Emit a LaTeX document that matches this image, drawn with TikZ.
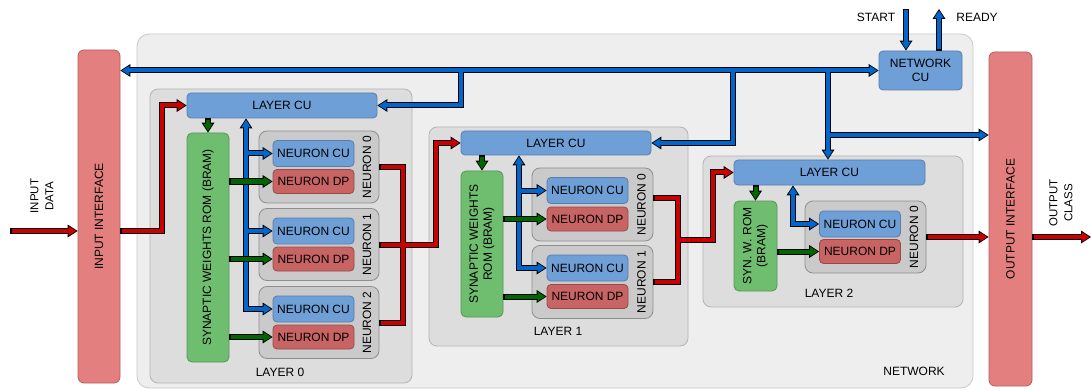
\documentclass[tikz,border=0pt]{standalone}
\usepackage{fontspec}
\setmainfont{Liberation Sans}
\usetikzlibrary{arrows.meta,positioning,calc}
\definecolor{netbg}{HTML}{EEEEEE}
\definecolor{netln}{HTML}{C8C8C8}
\definecolor{laybg}{HTML}{DDDDDD}
\definecolor{layln}{HTML}{B4B4B4}
\definecolor{nrnbg}{HTML}{CACACA}
\definecolor{nrnln}{HTML}{8E8E8E}
\definecolor{cubg}{HTML}{6E9FD6}
\definecolor{culn}{HTML}{5A7DAE}
\definecolor{dpbg}{HTML}{C96464}
\definecolor{dpln}{HTML}{9A4848}
\definecolor{rombg}{HTML}{6FBD6F}
\definecolor{romln}{HTML}{579657}
\definecolor{ifbg}{HTML}{E47F7F}
\definecolor{ifln}{HTML}{B45E5E}
\definecolor{datred}{HTML}{CC0000}
\definecolor{ctlblue}{HTML}{0066CC}
\definecolor{wgtgreen}{HTML}{006600}
\tikzset{
  every node/.style={font=\fontsize{12}{14}\selectfont,inner sep=0pt},
  netbox/.style={draw=netln,fill=netbg,line width=0.8pt,rounded corners=12pt},
  laybox/.style={draw=layln,fill=laybg,line width=0.8pt,rounded corners=8pt},
  nrnbox/.style={draw=nrnln,fill=nrnbg,line width=0.8pt,rounded corners=8pt,minimum width=120pt,minimum height=72pt},
  cublk/.style={draw=culn,fill=cubg,line width=0.8pt,rounded corners=4pt,minimum height=25pt},
  nrncu/.style={cublk,minimum width=81pt,minimum height=26pt},
  nrndp/.style={draw=dpln,fill=dpbg,line width=0.8pt,rounded corners=4pt,minimum width=81pt,minimum height=24pt},
  romblk/.style={draw=romln,fill=rombg,line width=0.8pt,rounded corners=5pt,minimum width=42pt},
  ifblk/.style={draw=ifln,fill=ifbg,line width=0.8pt,rounded corners=6pt,minimum width=42pt},
  rot/.style={rotate=90,align=center},
  sidelbl/.style={rot,font=\fontsize{11.5}{15}\selectfont},
  outl/.style={line width=6pt,draw=black,>={Triangle[length=10pt,width=13pt,line width=0pt]}},
  core/.style={line width=4pt,draw=#1,>={Triangle[length=7.4pt,width=9.4pt,line width=0pt]},shorten >=1.5pt,shorten <=1.5pt}
}
\begin{document}
\begin{tikzpicture}[x=1pt,y=-1pt]
  \useasboundingbox (0,0) rectangle (1091,390);
  % Network frame
  \node[netbox,minimum width=836pt,minimum height=354pt] (net) at (555,211) {};
  \node (netlbl) at (914,371) {NETWORK};

  % Interfaces
  \node[ifblk,minimum height=333pt] (inif) at (99,216.5) {};
  \node[rot] at (inif) {INPUT INTERFACE};
  \node[ifblk,minimum width=43pt,minimum height=334pt] (outif) at (1010.5,219) {};
  \node[rot] at (outif) {OUTPUT INTERFACE};
  \node[sidelbl] (indata) at (42,196) {INPUT\\DATA};
  \node[sidelbl] (outcls) at (1061,203) {OUTPUT\\CLASS};

  % Network control unit
  \node[cublk,minimum width=83pt,minimum height=39pt,align=center] (netcu) at (920.5,70.5) {NETWORK\\CU};
  \node (startlbl) at (876,17) {START};
  \node (readylbl) at (977,17) {READY};

  % Layer 0
  \node[laybox,minimum width=262pt,minimum height=294pt] (lay0) at (281,236) {};
  \node at (280,372) {LAYER 0};
  \node[cublk,minimum width=190pt] (l0cu) at (282,105.5) {LAYER CU};
  \node[romblk,minimum height=229pt] (rom0) at (208,247.5) {};
  \node[rot] at (rom0) {SYNAPTIC WEIGHTS ROM (BRAM)};
  \foreach \i/\y in {0/167,1/244.5,2/322.5} {
    \node[nrnbox] (nrn0\i) at (319,\y) {};
    \node[nrncu] (ncu0\i) at (313.5,\y-13.5) {NEURON CU};
    \node[nrndp] (ndp0\i) at (313.5,\y+14.5) {NEURON DP};
    \node[rot] at (367,\y) {NEURON \i};
  }

  % Layer 1
  \node[laybox,minimum width=259pt,minimum height=219pt] (lay1) at (558.5,236.5) {};
  \node at (558,331) {LAYER 1};
  \node[cublk,minimum width=190pt,minimum height=24pt] (l1cu) at (556,143) {LAYER CU};
  \node[romblk,minimum height=146pt] (rom1) at (482,244) {};
  \node[rot] at (rom1) {SYNAPTIC WEIGHTS\\ROM (BRAM)};
  \foreach \i/\y in {0/204.5,1/282} {
    \node[nrnbox,minimum width=121pt,minimum height=73pt] (nrn1\i) at (592.5,\y) {};
    \node[nrncu] (ncu1\i) at (587.5,\y-14) {NEURON CU};
    \node[nrndp] (ndp1\i) at (587.5,\y+14.5) {NEURON DP};
    \node[rot] at (641.5,\y) {NEURON \i};
  }

  % Layer 2
  \node[laybox,minimum width=260pt,minimum height=151pt] (lay2) at (833,231.5) {};
  \node at (829,293) {LAYER 2};
  \node[cublk,minimum width=191pt] (l2cu) at (829.5,172.5) {LAYER CU};
  \node[romblk,minimum width=43pt,minimum height=90pt] (rom2) at (755.5,246) {};
  \node[rot] at (rom2) {SYN. W. ROM\\(BRAM)};
  \node[nrnbox,minimum width=121pt] (nrn20) at (865.5,237) {};
  \node[nrncu] (ncu20) at (860,224) {NEURON CU};
  \node[nrndp] (ndp20) at (860,251.5) {NEURON DP};
  \node[rot] at (914,237) {NEURON 0};

  % Junctions and free ends
  \coordinate (din) at (10,231);
  \coordinate (dout) at (1091,237);
  \coordinate (ra) at (162,231);
  \coordinate (m0) at (403,244.5);
  \coordinate (k0) at (436,244.5);
  \coordinate (m1) at (678,240);
  \coordinate (k1) at (713,240);
  \coordinate (j0) at (461,70.5);
  \coordinate (j1) at (733,70.5);
  \coordinate (j2) at (828,70.5);
  \coordinate (j3) at (828,135);
  \coordinate (v0) at (246,0);
  \coordinate (v1) at (519,0);
  \coordinate (v2) at (793,0);
  \coordinate (st) at (906,9);
  \coordinate (rd) at (939,9);

  % Data (red) and control (blue) paths: outline first, then colour
  \foreach \pass in {outl,core} {
    \draw[\pass=datred,->] (din) -- (din -| inif.west);
    \draw[\pass=datred,->] (ra -| inif.east) -- (ra) |- (l0cu.west);
    \draw[\pass=datred] (nrn00.east) -| (m0);
    \draw[\pass=datred] (nrn02.east) -| (m0);
    \draw[\pass=datred,->] (nrn01.east) -- (k0) |- (l1cu.west);
    \draw[\pass=datred] (nrn11.east) -| (m1);
    \draw[\pass=datred,->] ([yshift=7pt]nrn10.east) -| (m1) -- (k1) |- (l2cu.west);
    \draw[\pass=datred,->] (nrn20.east) -- (nrn20.east -| outif.west);
    \draw[\pass=datred,->] (outif.east |- dout) -- (dout);

    \draw[\pass=ctlblue,->] (st) -- (st |- netcu.north);
    \draw[\pass=ctlblue,->] (rd |- netcu.north) -- (rd);
    \draw[\pass=ctlblue,<->] (netcu.west) -- (netcu.west -| inif.east);
    \draw[\pass=ctlblue,->] (j0) |- (l0cu.east);
    \draw[\pass=ctlblue,->] (j1) |- (l1cu.east);
    \draw[\pass=ctlblue,->] (j2) -- (j2 |- l2cu.north);
    \draw[\pass=ctlblue,->] (j3) -- (j3 -| outif.west);

    \draw[\pass=ctlblue,->] (v0 |- ncu00) -- (ncu00.west);
    \draw[\pass=ctlblue,->] (v0 |- ncu01) -- (ncu01.west);
    \draw[\pass=ctlblue,<->] (l0cu.south -| v0) |- (ncu02.west);
    \draw[\pass=ctlblue,->] (v1 |- ncu10) -- (ncu10.west);
    \draw[\pass=ctlblue,<->] (l1cu.south -| v1) |- (ncu11.west);
    \draw[\pass=ctlblue,<->] (l2cu.south -| v2) |- (ncu20.west);
  }

  % Weights (green)
  \foreach \pass in {outl,core} {
    \draw[\pass=wgtgreen,->] (l0cu.south -| rom0) -- (rom0.north);
    \foreach \i in {0,1,2}
      \draw[\pass=wgtgreen,->] (rom0.east |- ndp0\i) -- (ndp0\i.west);
    \draw[\pass=wgtgreen,->] (l1cu.south -| rom1) -- (rom1.north);
    \foreach \i in {0,1}
      \draw[\pass=wgtgreen,->] (rom1.east |- ndp1\i) -- (ndp1\i.west);
    \draw[\pass=wgtgreen,->] (l2cu.south -| rom2) -- (rom2.north);
    \draw[\pass=wgtgreen,->] (rom2.east |- ndp20) -- (ndp20.west);
  }
\end{tikzpicture}
\end{document}
